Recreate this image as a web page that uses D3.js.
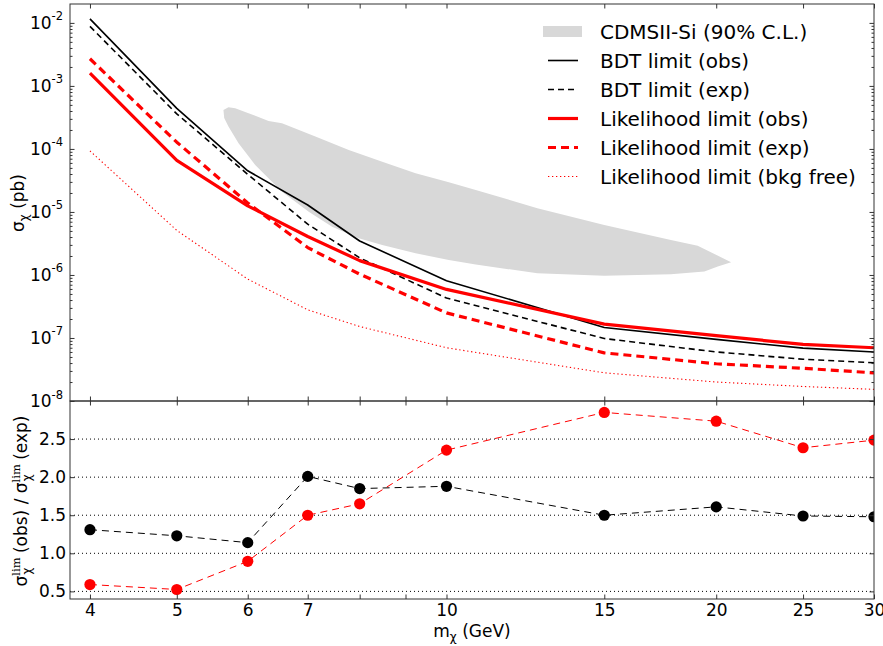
<!DOCTYPE html>
<html><head><meta charset="utf-8">
<script src="https://cdn.jsdelivr.net/npm/d3@7"></script>
<style>body{margin:0;background:#fff}svg{display:block;font-family:"DejaVu Sans",sans-serif}</style>
</head><body><svg id="c" width="883" height="646"></svg>
<script>
// ---------------- data ----------------
const masses = [4, 5, 6, 7, 8, 10, 15, 20, 25, 30];
const bdtObs  = [1.16e-2, 4.4e-4, 4.5e-5, 1.29e-5, 3.46e-6, 8.1e-7, 1.47e-7, 9.5e-8, 6.9e-8, 6.0e-8];
const bdtExp  = [8.8e-3, 3.6e-4, 3.95e-5, 6.4e-6, 1.87e-6, 4.3e-7, 9.8e-8, 6.0e-8, 4.6e-8, 4.05e-8];
const likeObs = [1.6e-3, 6.6e-5, 1.25e-5, 4.08e-6, 1.69e-6, 5.9e-7, 1.66e-7, 1.09e-7, 7.9e-8, 7.0e-8];
const likeExp = [2.7e-3, 1.28e-4, 1.39e-5, 2.72e-6, 1.03e-6, 2.5e-7, 5.8e-8, 3.9e-8, 3.3e-8, 2.8e-8];
const bkgFree = [9.3e-5, 5.1e-6, 8.6e-7, 2.8e-7, 1.52e-7, 7.0e-8, 2.8e-8, 2.0e-8, 1.7e-8, 1.53e-8];
const ratioBDT  = [1.31, 1.23, 1.14, 2.01, 1.85, 1.88, 1.50, 1.61, 1.49, 1.48];
const ratioLike = [0.59, 0.525, 0.895, 1.50, 1.65, 2.355, 2.85, 2.735, 2.386, 2.486];
// CDMSII-Si 90% C.L. contour (mass GeV, sigma pb)
const cdmsMass  = [5.637, 5.710, 5.810, 6.012, 6.330, 6.552, 7.139, 7.779, 8.478, 9.236, 10.06, 10.78, 12.63, 15.0, 17.80, 19.07, 20.78,
                   20.08, 19.40, 17.80, 15.0, 12.63, 10.78, 10.06, 9.236, 8.478, 7.98, 7.453, 7.018, 6.552, 6.117, 5.860, 5.710, 5.648];
const cdmsSigma = [4.16e-4, 4.59e-4, 4.43e-4, 3.69e-4, 2.78e-4, 2.56e-4, 1.57e-4, 9.64e-5, 6.28e-5, 4.11e-5, 2.96e-5, 2.23e-5, 1.15e-5, 6.23e-6, 3.6e-6, 2.92e-6, 1.59e-6,
                   1.36e-6, 1.13e-6, 1.03e-6, 9.75e-7, 1.06e-6, 1.47e-6, 1.73e-6, 2.21e-6, 2.99e-6, 3.83e-6, 5.85e-6, 1.01e-5, 2.10e-5, 5.57e-5, 1.23e-4, 2.26e-4, 3.10e-4];
const xTickVals = [4, 5, 6, 7, 10, 15, 20, 25, 30];
const xMinorVals = [8, 9];
const yTopMajors = [1e-8, 1e-7, 1e-6, 1e-5, 1e-4, 1e-3, 1e-2];
const yBotTicks = [0.5, 1.0, 1.5, 2.0, 2.5];
const legendLabels = ["CDMSII-Si (90% C.L.)", "BDT limit (obs)", "BDT limit (exp)", "Likelihood limit (obs)", "Likelihood limit (exp)", "Likelihood limit (bkg free)"];

// ---------------- layout ----------------
const L = 70, R = 874, T1 = 4, B1 = 401, T2 = 401, B2 = 599;
const x = d3.scaleLog().domain([3.8, 30]).range([L, R]);
const yT = d3.scaleLog().domain([1e-8, Math.pow(10, -1.7)]).range([B1, T1]);
const yB = d3.scaleLinear().domain([0.4, 3.0]).range([B2, T2]);
const svg = d3.select('#c');
const defs = svg.append('defs');
defs.append('clipPath').attr('id', 'ct').append('rect').attr('x', L).attr('y', T1).attr('width', R - L).attr('height', B1 - T1);
defs.append('clipPath').attr('id', 'cb').append('rect').attr('x', L).attr('y', T2).attr('width', R - L).attr('height', B2 - T2);

const yMinors = [];
for (let e = -8; e <= -2; e++) for (let k = 2; k <= 9; k++) { const v = k * Math.pow(10, e); if (v < yT.domain()[1]) yMinors.push(v); }

// ---------------- top panel ----------------
const gt = svg.append('g').attr('clip-path', 'url(#ct)');
gt.append('path').datum(d3.zip(cdmsMass, cdmsSigma))
  .attr('d', d3.line().x(d => x(d[0])).y(d => yT(d[1])).curve(d3.curveLinearClosed))
  .attr('fill', '#d8d8d8').attr('stroke', 'none');

const lineT = d3.line().x(d => x(d[0])).y(d => yT(d[1]));
const series = [
  {v: bdtObs,  c: '#000', w: 1.6, dash: null},
  {v: bdtExp,  c: '#000', w: 1.6, dash: '6,4'},
  {v: likeObs, c: '#ff0000', w: 3.2, dash: null},
  {v: likeExp, c: '#ff0000', w: 3.2, dash: '8,5'},
  {v: bkgFree, c: '#ff0000', w: 1.1, dash: '1.3,2.7'}
];
series.forEach(s => {
  gt.append('path').datum(d3.zip(masses, s.v)).attr('d', lineT)
    .attr('fill', 'none').attr('stroke', s.c).attr('stroke-width', s.w)
    .attr('stroke-dasharray', s.dash).attr('stroke-linejoin', 'round');
});

// ---------------- bottom panel ----------------
const gb = svg.append('g').attr('clip-path', 'url(#cb)');
gb.selectAll('line.grid').data(yBotTicks).join('line').attr('class', 'grid')
  .attr('x1', L).attr('x2', R).attr('y1', d => yB(d)).attr('y2', d => yB(d))
  .attr('stroke', '#000').attr('stroke-width', 1).attr('stroke-dasharray', '1,3');
const lineB = d3.line().x(d => x(d[0])).y(d => yB(d[1]));
[{v: ratioBDT, c: '#000'}, {v: ratioLike, c: '#ff0000'}].forEach(s => {
  gb.append('path').datum(d3.zip(masses, s.v)).attr('d', lineB)
    .attr('fill', 'none').attr('stroke', s.c).attr('stroke-width', 1).attr('stroke-dasharray', '7,5');
});
[{v: ratioBDT, c: '#000'}, {v: ratioLike, c: '#ff0000'}].forEach(s => {
  gb.selectAll(null).data(d3.zip(masses, s.v)).join('circle')
    .attr('cx', d => x(d[0])).attr('cy', d => yB(d[1])).attr('r', 5.6).attr('fill', s.c);
});

// ---------------- axes ----------------
const TK = 4.5, TKm = 2.5;
function ax(gen, tx, ty) {
  const g = svg.append('g').attr('transform', `translate(${tx},${ty})`).call(gen);
  g.select('.domain').remove();
  g.selectAll('line').attr('stroke', '#333');
  g.selectAll('text').filter(function () { return !this.textContent; }).remove();
  return g;
}
const allX = xTickVals.concat(xMinorVals);
ax(d3.axisLeft(yT).tickValues(yTopMajors).tickSize(-TK).tickFormat(''), L, 0);
ax(d3.axisLeft(yT).tickValues(yMinors).tickSize(-TKm).tickFormat(''), L, 0);
ax(d3.axisRight(yT).tickValues(yTopMajors).tickSize(-TK).tickFormat(''), R, 0);
ax(d3.axisRight(yT).tickValues(yMinors).tickSize(-TKm).tickFormat(''), R, 0);
ax(d3.axisTop(x).tickValues(allX).tickSize(-TK).tickFormat(''), 0, T1);
ax(d3.axisBottom(x).tickValues(allX).tickSize(-TK).tickFormat(''), 0, B1);
ax(d3.axisTop(x).tickValues(allX).tickSize(-TK).tickFormat(''), 0, T2);
ax(d3.axisBottom(x).tickValues(allX).tickSize(-TK).tickFormat(''), 0, B2);
const gxb = ax(d3.axisBottom(x).tickValues(xTickVals).tickSize(0).tickFormat(d3.format('d')).tickPadding(5), 0, B2);
gxb.selectAll('text').attr('font-size', 17).attr('fill', '#000').attr('font-family', 'DejaVu Sans');
const gyb = ax(d3.axisLeft(yB).tickValues(yBotTicks).tickSize(-TK).tickFormat(d3.format('.1f')).tickPadding(4), L, 0);
gyb.selectAll('text').attr('font-size', 17).attr('fill', '#000').attr('font-family', 'DejaVu Sans');
ax(d3.axisRight(yB).tickValues(yBotTicks).tickSize(-TK).tickFormat(''), R, 0);

// top-panel y labels 10^k
const lab = svg.append('g').attr('font-size', 17).attr('fill', '#000');
yTopMajors.forEach(v => {
  const e = Math.round(Math.log10(v));
  const t = lab.append('text').attr('x', 63).attr('y', yT(v) + 6).attr('text-anchor', 'end');
  t.append('tspan').text('10');
  t.append('tspan').attr('font-size', 11.5).attr('dy', -8.5).text(String(e));
});

// frames
svg.append('rect').attr('x', L).attr('y', T1).attr('width', R - L).attr('height', B1 - T1).attr('fill', 'none').attr('stroke', '#333').attr('stroke-width', 1);
svg.append('rect').attr('x', L).attr('y', T2).attr('width', R - L).attr('height', B2 - T2).attr('fill', 'none').attr('stroke', '#333').attr('stroke-width', 1);

// axis titles
const yl1 = svg.append('text').attr('transform', `translate(24,203) rotate(-90)`).attr('text-anchor', 'middle').attr('font-size', 17);
yl1.append('tspan').text('σ');
yl1.append('tspan').attr('font-size', 12).attr('dy', 4).text('χ');
yl1.append('tspan').attr('dy', -4).text(' (pb)');

const yl2 = svg.append('text').attr('transform', `translate(27,501) rotate(-90)`).attr('text-anchor', 'middle').attr('font-size', 17);
function sigmaLim(t, after) {
  t.append('tspan').text('σ');
  t.append('tspan').attr('font-size', 11.5).attr('font-family', 'DejaVu Serif').attr('dy', -7).text('lim');
  t.append('tspan').attr('font-size', 12).attr('dx', -17).attr('dy', 11).text('χ');
  t.append('tspan').attr('dx', 9).attr('dy', -4).text(after);
}
sigmaLim(yl2, ' (obs) / ');
sigmaLim(yl2, ' (exp)');

const xl = svg.append('text').attr('x', (L + R) / 2).attr('y', 637).attr('text-anchor', 'middle').attr('font-size', 17);
xl.append('tspan').text('m');
xl.append('tspan').attr('font-size', 12).attr('dy', 4).text('χ');
xl.append('tspan').attr('dy', -4).text(' (GeV)');

// ---------------- legend ----------------
const lg = svg.append('g');
const rowY = i => 31.5 + i * 29;
lg.append('rect').attr('x', 543).attr('y', rowY(0) - 5.5).attr('width', 39).attr('height', 11).attr('fill', '#d8d8d8');
series.forEach((s, i) => {
  lg.append('line').attr('x1', 548).attr('x2', 578).attr('y1', rowY(i + 1)).attr('y2', rowY(i + 1))
    .attr('stroke', s.c).attr('stroke-width', s.w).attr('stroke-dasharray', s.dash);
});
legendLabels.forEach((t, i) => {
  lg.append('text').attr('x', 600).attr('y', rowY(i)).attr('dy', '0.36em').attr('font-size', 20).text(t);
});
</script></body></html>
